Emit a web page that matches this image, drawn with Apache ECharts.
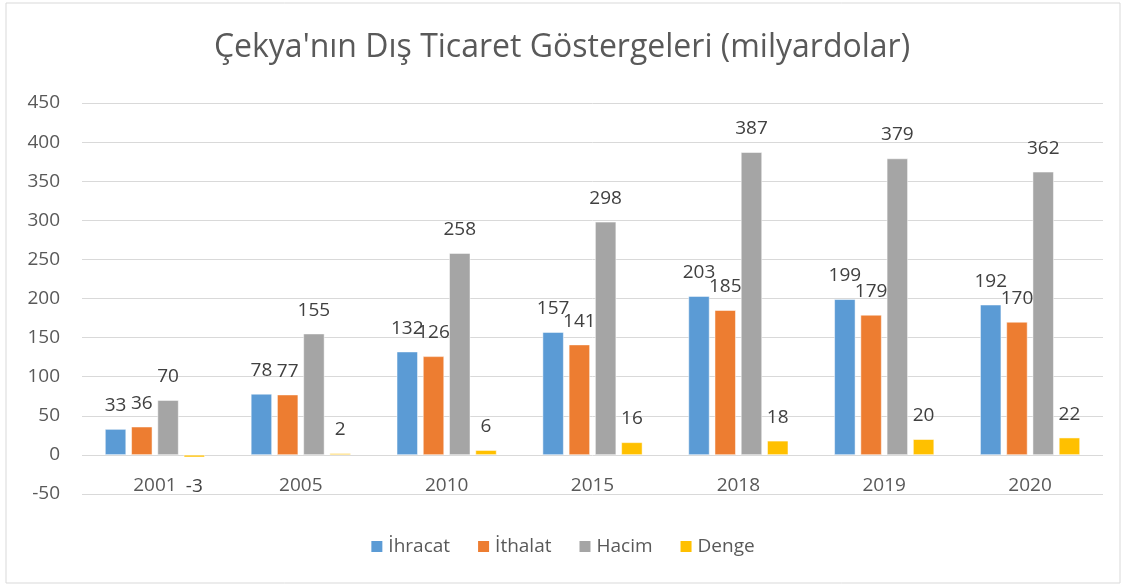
<!DOCTYPE html>
<html lang="tr">
<head>
    <meta charset="UTF-8">
    <title>Çekya'nın Dış Ticaret Göstergeleri</title>
    <script src="https://cdn.jsdelivr.net/npm/echarts@6/dist/echarts.min.js"></script>
    <style>
        html, body { margin: 0; padding: 0; background: #fff; }
        #main { width: 1124px; height: 585px; }
    </style>
</head>
<body>
<div id="main"></div>
<script>
    // veriler
    var years = ['2001', '2005', '2010', '2015', '2018', '2019', '2020'];
    var ihracat = [33, 78, 132, 157, 203, 199, 192];
    var ithalat = [36, 77, 126, 141, 185, 179, 170];
    var hacim = [70, 155, 258, 298, 387, 379, 362];
    var denge = [-3, 2, 6, 16, 18, 20, 22];
    var seriesNames = ['İhracat', 'İthalat', 'Hacim', 'Denge'];
    var colors = ['#5b9bd5', '#ed7d31', '#a5a5a5', '#ffc000'];

    var font = '"Open Sans", "Noto Sans", sans-serif';

    function withNegLabels(arr) {
        // eksi değerlerin etiketi çubuğun altına
        return arr.map(function (v) {
            if (v < 0) {
                return { value: v, label: { position: 'bottom', distance: 20 } };
            }
            return v;
        });
    }

    var myChart = echarts.init(document.getElementById('main'));
    var allData = [ihracat, ithalat, hacim, denge];

    var option = {
        animation: false,
        color: colors,
        textStyle: { fontFamily: font },
        graphic: [{
            type: 'rect',
            shape: { x: 6, y: 3, width: 1114, height: 580 },
            style: { fill: 'none', stroke: '#d9d9d9', lineWidth: 1 },
            silent: true
        }],
        title: {
            text: "Çekya'nın Dış Ticaret Göstergeleri (milyardolar)",
            left: 'center',
            top: 27,
            textStyle: { fontFamily: font, fontSize: 32, fontWeight: 'normal', color: '#595959' }
        },
        legend: {
            data: seriesNames,
            bottom: 24,
            left: 'center',
            itemWidth: 13,
            itemHeight: 13,
            itemGap: 26,
            icon: 'rect',
            textStyle: { fontFamily: font, fontSize: 19, color: '#595959' }
        },
        grid: { left: 82, right: 21, top: 103, bottom: 91 },
        xAxis: {
            type: 'category',
            data: years,
            axisLine: { show: false },
            axisTick: { show: false },
            // yıllar sıfır ile -50 çizgisi arasında
            axisLabel: { margin: -18, fontFamily: font, fontSize: 19, color: '#595959' }
        },
        yAxis: {
            type: 'value',
            min: -50,
            max: 450,
            interval: 50,
            axisLine: { show: false },
            axisTick: { show: false },
            splitLine: { lineStyle: { color: '#d9d9d9', width: 1 } },
            axisLabel: { margin: 22, fontFamily: font, fontSize: 19, color: '#595959' }
        },
        series: allData.map(function (arr, i) {
            return {
                name: seriesNames[i],
                type: 'bar',
                data: withNegLabels(arr),
                barWidth: 21,
                barGap: '25%',
                itemStyle: { color: colors[i], borderColor: '#fff', borderWidth: 0.5 },
                label: {
                    show: true,
                    position: 'top',
                    distance: 14,
                    fontFamily: font,
                    fontSize: 19,
                    color: '#404040'
                }
            };
        })
    };

    myChart.setOption(option);
</script>
</body>
</html>
